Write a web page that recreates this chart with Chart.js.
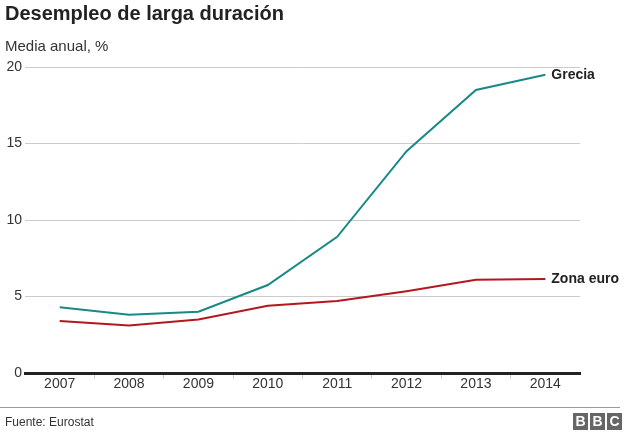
<!DOCTYPE html>
<html>
<head>
<meta charset="utf-8">
<script src="https://cdn.jsdelivr.net/npm/chart.js@4/dist/chart.umd.min.js"></script>
<style>
  body { margin: 0; background: #fff; font-family: "Liberation Sans", Arial, sans-serif; }
  #wrap { position: relative; width: 624px; height: 432px; }
  #chart { position: absolute; left: 0; top: 0; }
  .title { position: absolute; left: 5px; top: 2px; font-size: 20px; font-weight: bold; color: #222; }
  .sub { position: absolute; left: 5px; top: 37px; font-size: 15px; color: #333; }
  .rule { position: absolute; left: 0; top: 407px; width: 620px; height: 1px; background: #999; }
  .src { position: absolute; left: 5px; top: 415px; font-size: 12px; color: #333; }
  .bbc { position: absolute; left: 573px; top: 413px; display: flex; gap: 2px; }
  .bbc span { width: 15px; height: 17px; background: #666; color: #fff; font-weight: bold; font-size: 14px; line-height: 17px; text-align: center; }
</style>
</head>
<body>
<div id="wrap">
  <canvas id="chart" width="624" height="432"></canvas>
  <div class="title">Desempleo de larga duración</div>
  <div class="sub">Media anual, %</div>
  <div class="rule"></div>
  <div class="src">Fuente: Eurostat</div>
  <div class="bbc"><span>B</span><span>B</span><span>C</span></div>
</div>
<script>
const years = ['2007', '2008', '2009', '2010', '2011', '2012', '2013', '2014'];
const grecia = [4.3, 3.8, 4.0, 5.75, 8.9, 14.5, 18.5, 19.5];
const zonaEuro = [3.4, 3.1, 3.5, 4.4, 4.7, 5.35, 6.1, 6.15];
const yTicks = [0, 5, 10, 15, 20];

// names written at the end of each line
const endLabels = {
  id: 'endLabels',
  afterDatasetsDraw(chart) {
    const ctx = chart.ctx;
    ctx.save();
    ctx.font = 'bold 14px "Liberation Sans", Arial, sans-serif';
    ctx.fillStyle = '#222';
    ctx.textBaseline = 'middle';
    chart.data.datasets.forEach((ds, i) => {
      const pts = chart.getDatasetMeta(i).data;
      const last = pts[pts.length - 1];
      ctx.fillText(ds.label, last.x + 6, last.y);
    });
    ctx.restore();
  }
};

new Chart(document.getElementById('chart').getContext('2d'), {
  type: 'line',
  data: {
    labels: years,
    datasets: [
      { label: 'Grecia', data: grecia, borderColor: '#178a87', borderWidth: 2, pointRadius: 0, tension: 0 },
      { label: 'Zona euro', data: zonaEuro, borderColor: '#b5171f', borderWidth: 2, pointRadius: 0, tension: 0 }
    ]
  },
  options: {
    responsive: false,
    animation: false,
    layout: { padding: { top: 67, bottom: 29, left: 0, right: 44 } },
    plugins: { legend: { display: false }, tooltip: { enabled: false } },
    scales: {
      x: {
        offset: true,
        afterFit(scale) { scale.height = 30; },
        grid: {
          drawOnChartArea: false, tickLength: 6, offset: true,
          color: c => (c.index === 0 || c.index === undefined || c.index >= years.length) ? 'rgba(0,0,0,0)' : '#ccc'
        },
        border: { color: '#222', width: 3 },
        ticks: { color: '#333', font: { family: '"Liberation Sans", Arial', size: 14 }, padding: -3 }
      },
      y: {
        min: 0, max: 20,
        afterFit(scale) { scale.width = 25; },
        afterBuildTicks(scale) { scale.ticks = yTicks.map(v => ({ value: v })); },
        grid: { color: '#ccc', drawTicks: false },
        border: { display: false },
        ticks: { color: '#333', font: { family: '"Liberation Sans", Arial', size: 14 }, padding: 3 }
      }
    }
  },
  plugins: [endLabels]
});
</script>
</body>
</html>
